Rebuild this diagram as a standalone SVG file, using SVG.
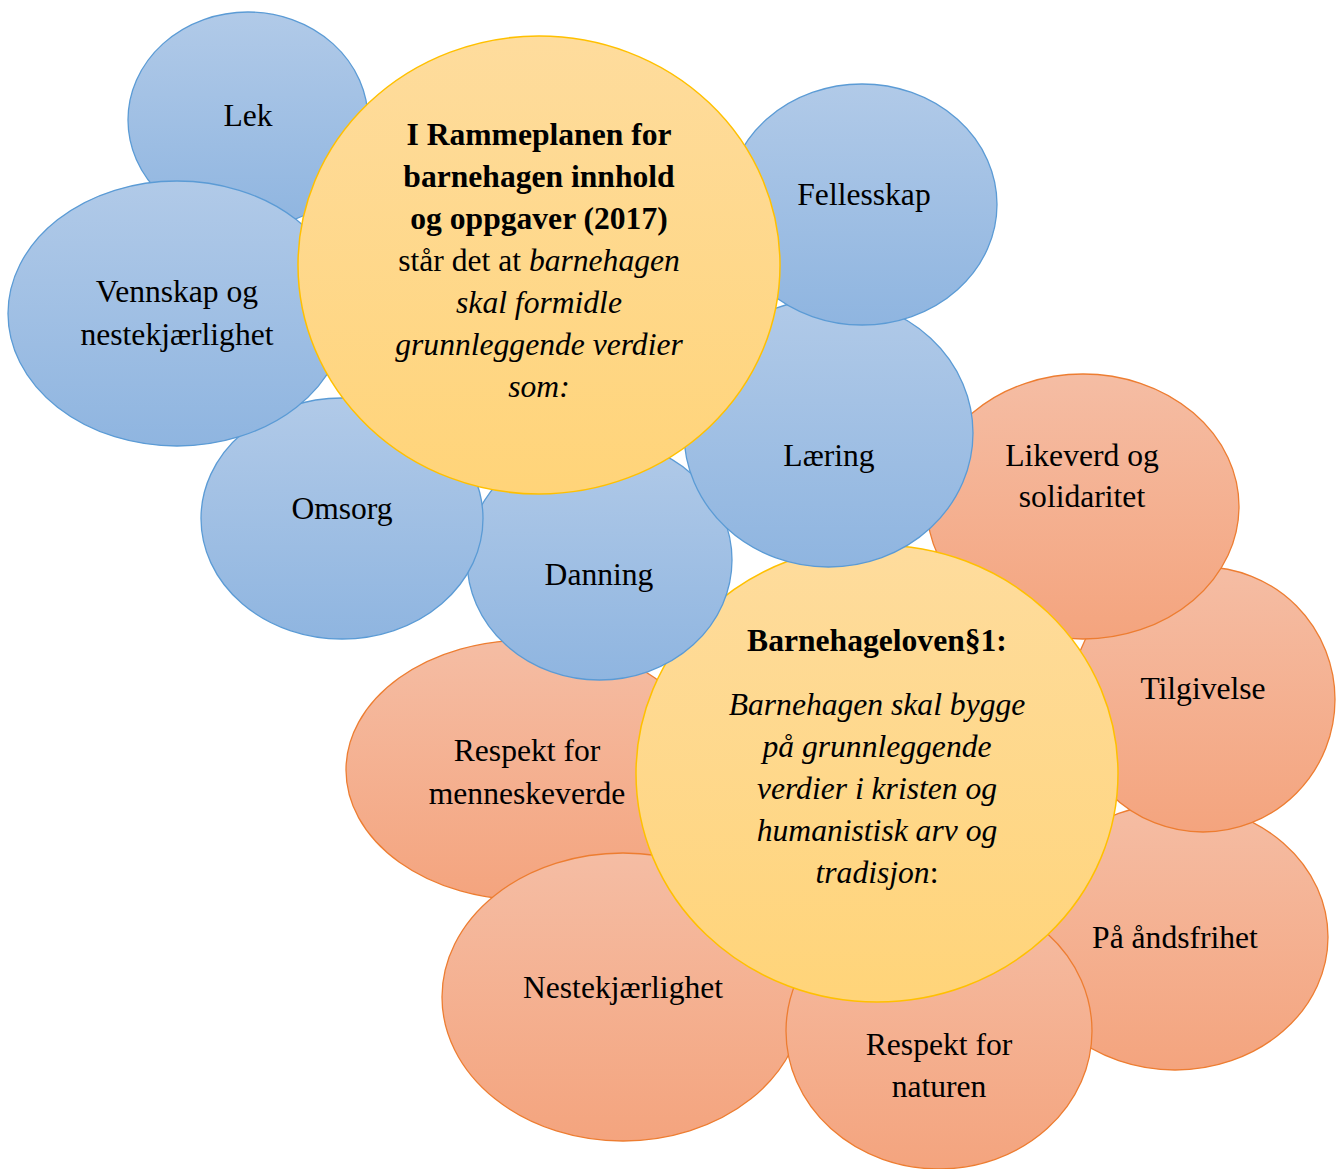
<svg xmlns="http://www.w3.org/2000/svg" width="1341" height="1169" viewBox="0 0 1341 1169">
<defs>
<linearGradient id="gb" x1="0" y1="0" x2="0" y2="1"><stop offset="0" stop-color="#B1CAE8"/><stop offset="1" stop-color="#8FB5E0"/></linearGradient>
<linearGradient id="go" x1="0" y1="0" x2="0" y2="1"><stop offset="0" stop-color="#F5BDA4"/><stop offset="1" stop-color="#F4A47E"/></linearGradient>
<linearGradient id="gy" x1="0" y1="0" x2="0" y2="1"><stop offset="0" stop-color="#FEDC9D"/><stop offset="1" stop-color="#FFD479"/></linearGradient>
</defs>
<style>
.b{fill:url(#gb);stroke:#5B9BD5;stroke-width:1.3}
.o{fill:url(#go);stroke:#ED7D31;stroke-width:1.3}
.y{fill:url(#gy);stroke:#FFC000;stroke-width:1.5}
text{font-family:"Liberation Serif","Times New Roman",serif;font-size:31.6px;fill:#000;text-anchor:middle}
.bd{font-weight:bold}
.it{font-style:italic}
</style>
<rect width="1341" height="1169" fill="#fff"/>
<g id="respekt-menneskeverde"><ellipse class="o" cx="527" cy="770" rx="181" ry="130"/><text x="527" y="761">Respekt for</text><text x="527" y="804">menneskeverde</text></g>
<g id="nestekjaerlighet"><ellipse class="o" cx="623" cy="997" rx="181" ry="144"/><text x="623" y="998">Nestekjærlighet</text></g>
<g id="andsfrihet"><ellipse class="o" cx="1175" cy="937" rx="153" ry="133"/><text x="1175" y="948">På åndsfrihet</text></g>
<g id="respekt-naturen"><ellipse class="o" cx="939" cy="1031" rx="153" ry="138"/><text x="939" y="1055">Respekt for</text><text x="939" y="1097">naturen</text></g>
<g id="tilgivelse"><ellipse class="o" cx="1203" cy="699.5" rx="132" ry="132.5"/><text x="1203" y="699">Tilgivelse</text></g>
<g id="likeverd"><ellipse class="o" cx="1083" cy="506.5" rx="156" ry="132.5"/><text x="1082" y="466">Likeverd og</text><text x="1082" y="507">solidaritet</text></g>
<g id="barnehageloven"><ellipse class="y" cx="877" cy="773.5" rx="241" ry="228.5"/>
<text x="877" y="651" class="bd">Barnehageloven§1:</text>
<text x="877" y="715" class="it">Barnehagen skal bygge</text>
<text x="877" y="757" class="it">på grunnleggende</text>
<text x="877" y="799" class="it">verdier i kristen og</text>
<text x="877" y="841" class="it">humanistisk arv og</text>
<text x="877" y="883"><tspan class="it">tradisjon</tspan>:</text></g>
<g id="danning"><ellipse class="b" cx="599.5" cy="560" rx="132.5" ry="120"/><text x="599" y="585">Danning</text></g>
<g id="laering"><ellipse class="b" cx="828.5" cy="433" rx="144.5" ry="134"/><text x="829" y="466">Læring</text></g>
<g id="fellesskap"><ellipse class="b" cx="862" cy="204.5" rx="135" ry="120.5"/><text x="864" y="205">Fellesskap</text></g>
<g id="lek"><ellipse class="b" cx="248" cy="120" rx="120" ry="108"/><text x="248" y="126">Lek</text></g>
<g id="omsorg"><ellipse class="b" cx="342" cy="518.5" rx="141" ry="120.5"/><text x="342" y="519">Omsorg</text></g>
<g id="vennskap"><ellipse class="b" cx="177" cy="313.5" rx="169" ry="132.5"/><text x="177" y="302">Vennskap og</text><text x="177" y="345">nestekjærlighet</text></g>
<g id="rammeplanen"><ellipse class="y" cx="539" cy="265" rx="241" ry="229"/>
<text x="539" y="145" class="bd">I Rammeplanen for</text>
<text x="539" y="187" class="bd">barnehagen innhold</text>
<text x="539" y="229" class="bd">og oppgaver (2017)</text>
<text x="539" y="271">står det at <tspan class="it">barnehagen</tspan></text>
<text x="539" y="313" class="it">skal formidle</text>
<text x="539" y="355" class="it">grunnleggende verdier</text>
<text x="539" y="397" class="it">som:</text></g>
<g id="connectors"/>
</svg>
